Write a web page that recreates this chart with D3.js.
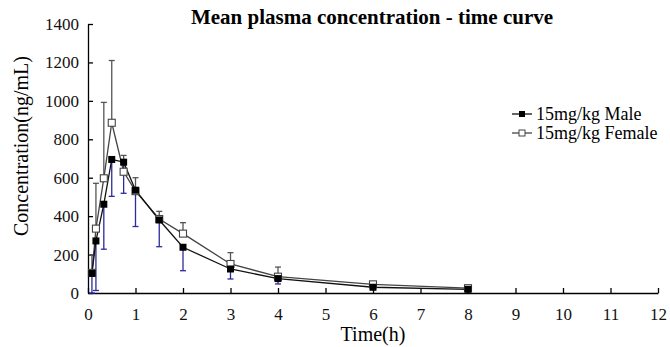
<!DOCTYPE html>
<html>
<head>
<meta charset="utf-8">
<script src="https://cdn.jsdelivr.net/npm/d3@7"></script>
<style>
  body { margin: 0; background: #fff; }
  svg { display: block; }
</style>
</head>
<body>
<svg id="chart" width="670" height="347"></svg>
<script>
// sampling times (h)
const times = [0.083, 0.167, 0.333, 0.5, 0.75, 1, 1.5, 2, 3, 4, 6, 8];
// 15mg/kg Male
const maleMean = [102, 271, 462, 695, 681, 535, 380, 238, 125, 75, 30, 19];
const maleSD = [102, 258, 234, 192, 162, 189, 139, 122, 52, 28, 12, 8];
// 15mg/kg Female
const femaleMean = [105, 335, 597, 886, 631, 530, 385, 309, 151, 85, 45, 25];
const femaleSD = [93, 236, 395, 324, 85, 70, 40, 57, 59, 50, 12, 8];

const xTicks = d3.range(0, 13, 1);
const yTicks = d3.range(0, 1401, 200);
const seriesNames = ["15mg/kg Male", "15mg/kg Female"];

const FONT = "'Liberation Serif'";
const svg = d3.select("#chart");

const x = d3.scaleLinear().domain([0, 12]).range([88, 658]);
const y = d3.scaleLinear().domain([0, 1400]).range([293, 24]);

// axes
const xAxis = svg.append("g")
    .attr("transform", "translate(0," + y(0) + ")")
    .call(d3.axisBottom(x).tickValues(xTicks).tickFormat(d3.format("d"))
      .tickSizeInner(-5).tickSizeOuter(0).tickPadding(15));
const yAxis = svg.append("g")
    .attr("transform", "translate(" + x(0) + ",0)")
    .call(d3.axisLeft(y).tickValues(yTicks).tickFormat(d3.format("d"))
      .tickSizeInner(-5).tickSizeOuter(0).tickPadding(9));

[xAxis, yAxis].forEach(g => {
  g.select(".domain").attr("stroke", "#000").attr("stroke-width", 1.3);
  g.selectAll(".tick line").attr("stroke", "#000").attr("stroke-width", 1.3);
  g.selectAll(".tick text")
    .style("font-family", FONT)
    .style("font-size", "17px")
    .attr("fill", "#111");
});

const male = times.map((t, i) => ({t, m: maleMean[i], sd: maleSD[i]}));
const female = times.map((t, i) => ({t, m: femaleMean[i], sd: femaleSD[i]}));

const line = d3.line().x(d => x(d.t)).y(d => y(d.m));

// error bars: female up (grey), male down (blue)
function errorBars(data, dir, color) {
  const g = svg.append("g").attr("stroke", color).attr("stroke-width", 1.3);
  g.selectAll("line.v").data(data).enter().append("line")
    .attr("x1", d => x(d.t)).attr("x2", d => x(d.t))
    .attr("y1", d => y(d.m))
    .attr("y2", d => y(Math.max(0, d.m + dir * d.sd)));
  g.selectAll("line.c").data(data).enter().append("line")
    .attr("x1", d => x(d.t) - 3).attr("x2", d => x(d.t) + 3)
    .attr("y1", d => y(Math.max(0, d.m + dir * d.sd)))
    .attr("y2", d => y(Math.max(0, d.m + dir * d.sd)));
}

errorBars(female, 1, "#555");
errorBars(male, -1, "#2b2b9e");

svg.append("path").datum(female)
  .attr("d", line).attr("fill", "none").attr("stroke", "#444").attr("stroke-width", 1.3);
svg.append("path").datum(male)
  .attr("d", line).attr("fill", "none").attr("stroke", "#111").attr("stroke-width", 1.3);

const s = 7;
svg.append("g").selectAll("rect").data(female).enter().append("rect")
  .attr("x", d => x(d.t) - s / 2).attr("y", d => y(d.m) - s / 2)
  .attr("width", s).attr("height", s)
  .attr("fill", "#fff").attr("stroke", "#444").attr("stroke-width", 1.1);
svg.append("g").selectAll("rect").data(male).enter().append("rect")
  .attr("x", d => x(d.t) - s / 2).attr("y", d => y(d.m) - s / 2)
  .attr("width", s).attr("height", s)
  .attr("fill", "#000");

// title
svg.append("text")
  .attr("x", 372).attr("y", 24)
  .attr("text-anchor", "middle")
  .style("font-family", FONT)
  .style("font-weight", "bold").style("font-size", "21px")
  .text("Mean plasma concentration - time curve");

// axis labels
svg.append("text")
  .attr("x", 373).attr("y", 341)
  .attr("text-anchor", "middle")
  .style("font-family", FONT)
  .style("font-size", "20px")
  .text("Time(h)");
svg.append("text")
  .attr("transform", "translate(28,146) rotate(-90)")
  .attr("text-anchor", "middle")
  .style("font-family", FONT)
  .style("font-size", "20px")
  .text("Concentration(ng/mL)");

// legend
const legend = svg.append("g");
seriesNames.forEach((name, i) => {
  const ly = 114 + i * 19;
  legend.append("line")
    .attr("x1", 512).attr("x2", 532).attr("y1", ly).attr("y2", ly)
    .attr("stroke", i === 0 ? "#111" : "#444").attr("stroke-width", 1.3);
  legend.append("rect")
    .attr("x", 522 - 3).attr("y", ly - 3).attr("width", 6).attr("height", 6)
    .attr("fill", i === 0 ? "#000" : "#fff")
    .attr("stroke", i === 0 ? "none" : "#444");
  legend.append("text")
    .attr("x", 536).attr("y", ly + 5.5)
    .style("font-family", FONT)
    .style("font-size", "18px")
    .text(name);
});
</script>
</body>
</html>
